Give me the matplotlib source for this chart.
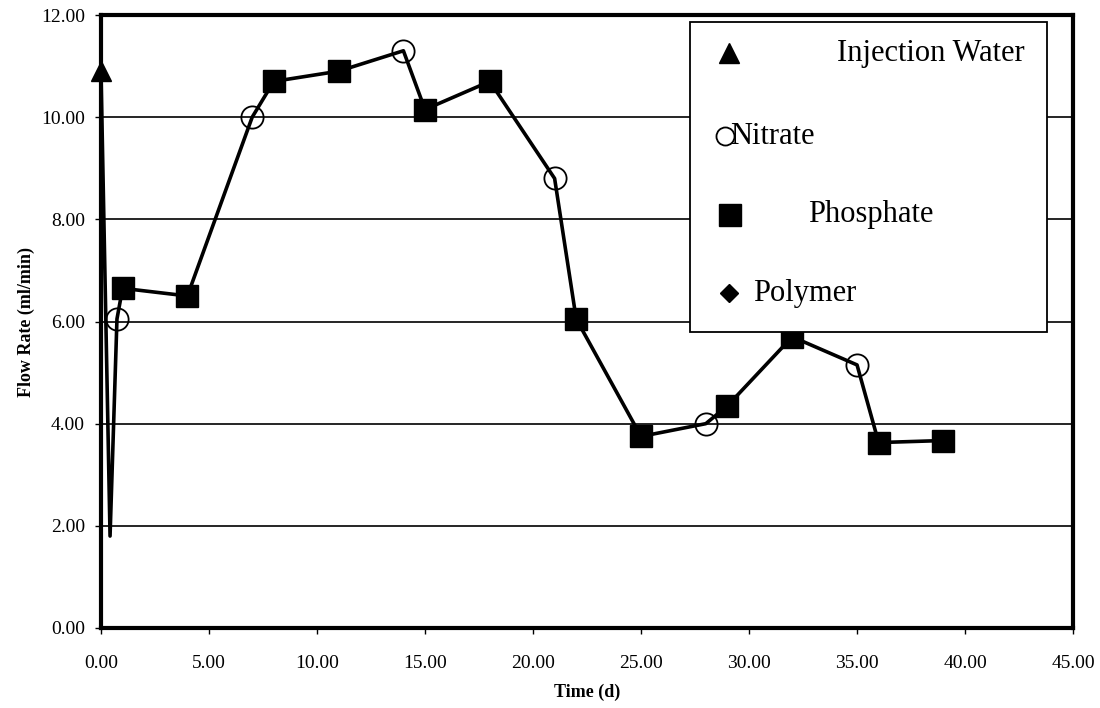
import matplotlib
matplotlib.use("Agg")
import matplotlib.pyplot as plt
from matplotlib.patches import Rectangle

plt.rcParams['font.family'] = ['Liberation Serif', 'DejaVu Serif']

# sampling days and measured flow rate, with the sample type at each point
time_d = [0.0, 0.42, 0.74, 1.0, 4.0, 7.0, 8.0, 11.0, 14.0, 15.0, 18.0,
          21.0, 22.0, 25.0, 28.0, 29.0, 32.0, 35.0, 36.0, 39.0]
flow_rate = [10.9, 1.8, 6.05, 6.65, 6.5, 10.0, 10.7, 10.9, 11.3, 10.15, 10.7,
             8.8, 6.05, 3.75, 4.0, 4.35, 5.7, 5.15, 3.63, 3.67]
sample = ['Injection Water', None, 'Nitrate', 'Phosphate', 'Phosphate',
          'Nitrate', 'Phosphate', 'Phosphate', 'Nitrate', 'Phosphate',
          'Phosphate', 'Nitrate', 'Phosphate', 'Phosphate', 'Nitrate',
          'Phosphate', 'Phosphate', 'Nitrate', 'Phosphate', 'Phosphate']

series = ['Injection Water', 'Nitrate', 'Phosphate', 'Polymer']
x_ticks = [0, 5, 10, 15, 20, 25, 30, 35, 40, 45]
y_ticks = [0, 2, 4, 6, 8, 10, 12]

styles = {
    'Injection Water': dict(marker='^', markersize=15, color='black'),
    'Nitrate': dict(marker='o', markersize=16, markerfacecolor='none',
                    markeredgecolor='black', markeredgewidth=1.3),
    'Phosphate': dict(marker='s', markersize=16, color='black'),
    'Polymer': dict(marker='D', markersize=8, color='black'),
}

fig = plt.figure(figsize=(11, 7.08), dpi=100)
ax = fig.add_axes([0.0918, 0.113, 0.8837, 0.8658])

ax.plot(time_d, flow_rate, color='black', linewidth=2.6, zorder=3,
        clip_on=False)
for name in series:
    xs = [t for t, s in zip(time_d, sample) if s == name]
    ys = [f for f, s in zip(flow_rate, sample) if s == name]
    if xs:
        ax.plot(xs, ys, linestyle='none', zorder=4, clip_on=False,
                **styles[name])

ax.set_xlim(0, 45)
ax.set_ylim(0, 12)
ax.set_xticks(x_ticks)
ax.set_yticks(y_ticks)
ax.set_xticklabels([f"{v:.2f}" for v in x_ticks], fontsize=14)
ax.set_yticklabels([f"{v:.2f}" for v in y_ticks], fontsize=14)
ax.tick_params(direction='out', length=4.5, width=1)
ax.tick_params(axis='y', pad=7)
ax.tick_params(axis='x', pad=15)
ax.yaxis.grid(True, color='black', linewidth=1.2)
ax.set_axisbelow(True)
for sp in ax.spines.values():
    sp.set_linewidth(3)

ax.set_xlabel("Time (d)", fontsize=13, fontweight='bold', labelpad=8)
ax.set_ylabel("Flow Rate (ml/min)", fontsize=13, fontweight='bold', labelpad=4)

# hand-placed legend box
ax.add_patch(Rectangle((0.606, 0.483), 0.367, 0.506, transform=ax.transAxes,
                       facecolor='white', edgecolor='black', linewidth=1.3,
                       zorder=6, clip_on=False))
legend_marks = [(0.646, 0.938), (0.642, 0.802), (0.647, 0.674), (0.646, 0.546)]
legend_text = [(0.757, 0.938), (0.647, 0.802), (0.727, 0.674), (0.671, 0.546)]
legend_ms = {'Injection Water': 14, 'Nitrate': 13, 'Phosphate': 16, 'Polymer': 9}
for name, (mx, my), (tx, ty) in zip(series, legend_marks, legend_text):
    st = dict(styles[name])
    st['markersize'] = legend_ms[name]
    ax.plot([mx], [my], transform=ax.transAxes, clip_on=False, zorder=7,
            linestyle='none', **st)
    ax.text(tx, ty, name, transform=ax.transAxes, fontsize=22,
            va='center', ha='left', zorder=8)

fig.savefig("out.png", dpi=100)
